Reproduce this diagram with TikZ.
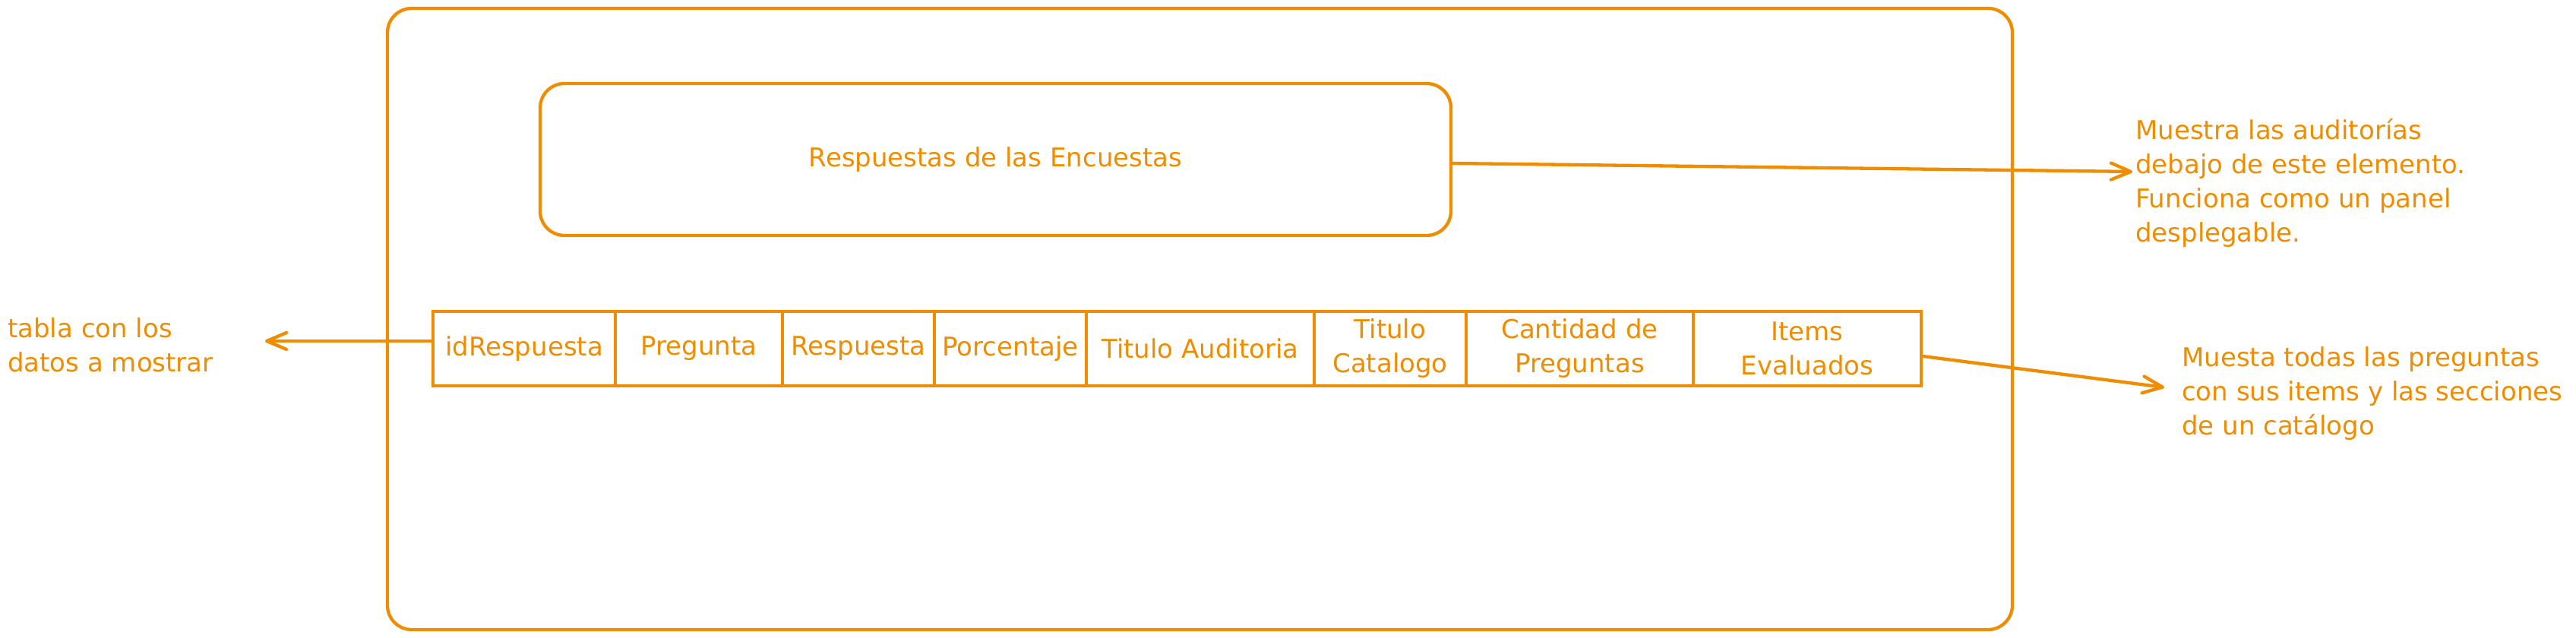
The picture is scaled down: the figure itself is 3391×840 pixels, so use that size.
\documentclass[tikz,border=0pt]{standalone}
\usepackage{fontspec}
\setmainfont{DejaVu Sans}
\usetikzlibrary{arrows.meta}
\definecolor{exor}{RGB}{240,140,0}
\begin{document}
\begin{tikzpicture}[x=1pt,y=-1pt,
  every node/.style={text=exor, font=\fontsize{34}{45}\selectfont},
  box/.style={draw=exor, line width=4.3pt, rounded corners=32pt, inner sep=0pt},
  cellbox/.style={draw=exor, line width=4.3pt, inner sep=0pt, minimum height=98pt, align=center},
  conn/.style={draw=exor, line width=4.3pt, line cap=round, -{Straight Barb[length=26pt,width=22pt,round]}},
  note/.style={align=left, inner sep=0pt, anchor=west}]
\useasboundingbox (0,0) rectangle (3391,840);
% outer frame
\node[box, minimum width=2139pt, minimum height=818pt] (outer) at (1579.5,420) {};
% header panel
\node[box, minimum width=1199pt, minimum height=200pt] (inner) at (1310.5,210) {Respuestas de las Encuestas};
% table
\node[cellbox, minimum width=240pt] (c1) at (690,459) {idRespuesta};
\node[cellbox, minimum width=220pt] (c2) at (920,459) {Pregunta};
\node[cellbox, minimum width=200pt] (c3) at (1130,459) {Respuesta};
\node[cellbox, minimum width=200pt] (c4) at (1330,459) {Porcentaje};
\node[cellbox, minimum width=300pt] (c5) at (1580,459) {Titulo Auditoria};
\node[cellbox, minimum width=200pt] (c6) at (1830,459) {Titulo\\Catalogo};
\node[cellbox, minimum width=299pt] (c7) at (2079.5,459) {Cantidad de\\Preguntas};
\node[cellbox, minimum width=300pt] (c8) at (2379,459) {Items\\Evaluados};
% notes
\node[note] (n1) at (2811,241) {Muestra las auditorías\\debajo de este elemento.\\Funciona como un panel\\desplegable.};
\node[note] (n2) at (10,454) {tabla con los\\datos a mostrar};
\node[note] (n3) at (2872,518) {Muesta todas las preguntas\\con sus items y las secciones\\de un catálogo};
% arrow ends
\coordinate (t1) at (2807,226);
\coordinate (t2) at (349,449);
\coordinate (t3) at (2849,510);
% connectors
\draw[conn] ([yshift=-5pt]inner.east) -- (t1);
\draw[conn] ([yshift=10pt]c1.west) -- (t2);
\draw[conn] ([yshift=-10pt]c8.east) -- (t3);
\end{tikzpicture}
\end{document}
